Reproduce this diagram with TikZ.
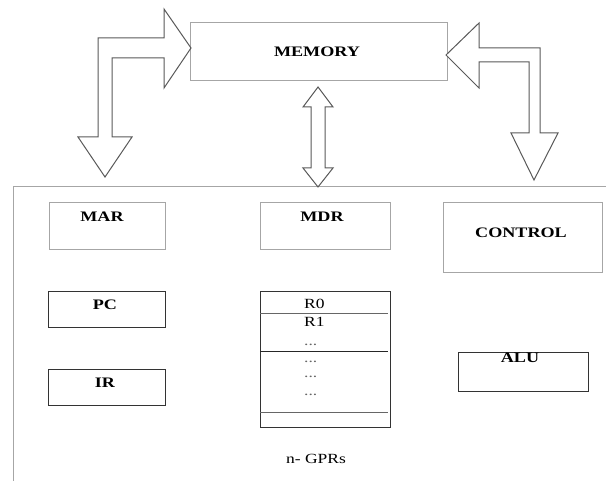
\documentclass[tikz,border=0pt]{standalone}
\usepackage{fontspec}
\setmainfont[FakeStretch=1.25]{Liberation Serif}
\begin{document}
\begin{tikzpicture}[x=1pt,y=-1pt,
  softbox/.style={draw=black!35, line width=1pt, rectangle, inner sep=0pt, anchor=north west},
  hardbox/.style={draw=black!80, line width=1pt, rectangle, inner sep=0pt, anchor=north west},
  lbl/.style={font=\fontsize{14.5}{17}\selectfont\bfseries, inner sep=0pt, anchor=base},
  reg/.style={font=\fontsize{14}{17}\selectfont, inner sep=0pt, anchor=base west},
  dots/.style={font=\fontsize{14}{17}\selectfont, text=black!60, inner sep=0pt, anchor=base west},
  blockarrow/.style={draw=black!65, line width=1pt, fill=white, line join=miter},
  frameline/.style={draw=black!35, line width=1pt},
  divider/.style={line width=1pt}
]
\useasboundingbox (0,0) rectangle (606,481);

% processor frame
\draw[frameline] (13,481) -- (13,187) -- (606,187);

% memory
\node[softbox, minimum width=257pt, minimum height=58pt] (mem) at (190,22) {};
\node[lbl] (memt) at (317,57) {MEMORY};

% block arrows between memory and the processor
\draw[blockarrow] (191,48) -- (164,9) -- (164,38) -- (98,38) -- (98,137) -- (78,137)
  -- (105,177) -- (132,137) -- (112,137) -- (112,58) -- (164,58) -- (164,88) -- cycle;
\draw[blockarrow] (446,55) -- (479,23) -- (479,48) -- (540,48) -- (540,133) -- (558,133)
  -- (534,180) -- (511,133) -- (529,133) -- (529,62) -- (479,62) -- (479,88) -- cycle;
\draw[blockarrow] (318,87) -- (333,107) -- (325,107) -- (325,168) -- (333,168) -- (318,187)
  -- (303,168) -- (311,168) -- (311,107) -- (303,107) -- cycle;

% registers
\node[softbox, minimum width=116pt, minimum height=47pt] (mar) at (49,202) {};
\node[lbl] (mart) at (102,222) {MAR};
\node[softbox, minimum width=130pt, minimum height=47pt] (mdr) at (260,202) {};
\node[lbl] (mdrt) at (322,222) {MDR};
\node[softbox, minimum width=159pt, minimum height=70pt] (ctl) at (443,202) {};
\node[lbl] (ctlt) at (521,238) {CONTROL};

\node[hardbox, minimum width=117pt, minimum height=36pt] (pc) at (48,291) {};
\node[lbl] (pct) at (105,310) {PC};
\node[hardbox, minimum width=117pt, minimum height=36pt] (ir) at (48,369) {};
\node[lbl] (irt) at (105,388) {IR};

\node[hardbox, minimum width=130pt, minimum height=39pt] (alu) at (458,352) {};
\node[lbl] (alut) at (520,363) {ALU};

% general purpose register file
\node[hardbox, minimum width=130pt, minimum height=136pt] (gpr) at (260,291) {};
\draw[divider, draw=black!60] (260,314) -- (388,314);
\draw[divider, draw=black!85] (260,352) -- (388,352);
\draw[divider, draw=black!60] (260,413) -- (388,413);
\node[reg] (r0) at (304,309) {R0};
\node[reg] (r1) at (304,327) {R1};
\node[dots] (d1) at (304,346) {...};
\node[dots] (d2) at (304,363) {...};
\node[dots] (d3) at (304,378) {...};
\node[dots] (d4) at (304,396) {...};
\node[font=\fontsize{14}{17}\selectfont, inner sep=0pt, anchor=base] (gprt) at (316,464) {n- GPRs};
\end{tikzpicture}
\end{document}
